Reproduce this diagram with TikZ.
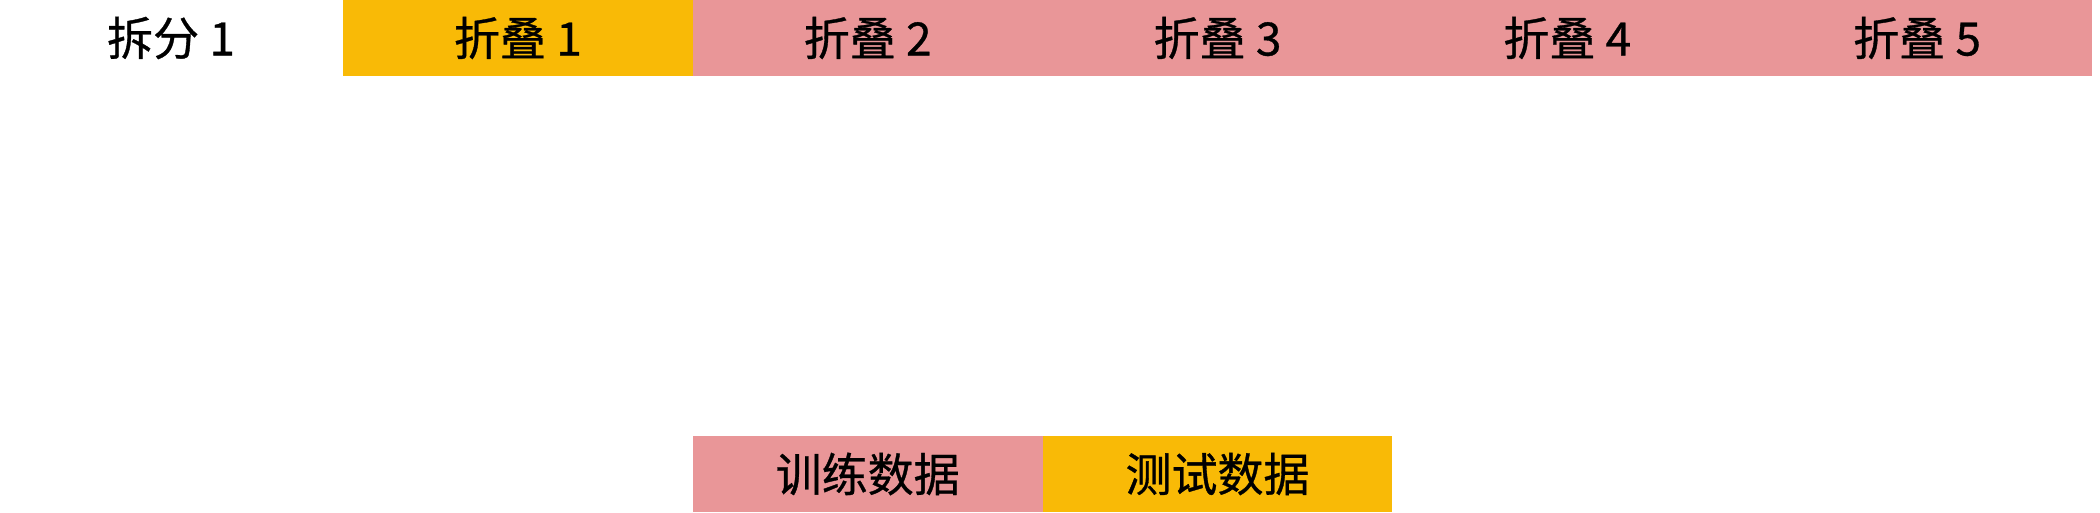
\documentclass[tikz,border=0pt]{standalone}
\usepackage{fontspec}
\setmainfont{Noto Sans CJK SC}[FakeBold=0.7]
\definecolor{foldyellow}{HTML}{F9BA06}
\definecolor{foldpink}{HTML}{E99698}
\tikzset{
  cell/.style={minimum width=349.8pt, minimum height=76pt, inner sep=0pt, outer sep=0pt,
    font=\fontsize{46}{50}\selectfont, text=black},
  testcell/.style={cell, fill=foldyellow},
  traincell/.style={cell, fill=foldpink},
  plainlabel/.style={cell, fill=none}
}
\begin{document}
\begin{tikzpicture}[x=1pt,y=1pt]
\useasboundingbox (0,0) rectangle (2100,512);
\fill[white] (0,0) rectangle (2100,512);
\node[plainlabel] (split) at (171,474) {拆分 1};
\node[testcell]  (f1) at (517.9,474) {折叠 1};
\node[traincell] (f2) at (867.7,474) {折叠 2};
\node[traincell] (f3) at (1217.5,474) {折叠 3};
\node[traincell] (f4) at (1567.3,474) {折叠 4};
\node[traincell] (f5) at (1917.1,474) {折叠 5};
\node[traincell] (train) at (867.7,38) {训练数据};
\node[testcell]  (test) at (1217.5,38) {测试数据};
\end{tikzpicture}
\end{document}
